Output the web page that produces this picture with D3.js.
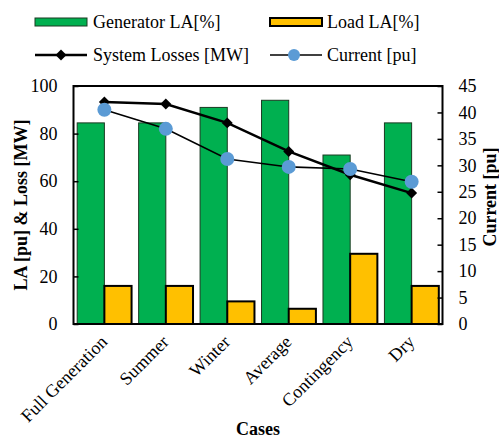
<!DOCTYPE html>
<html><head><meta charset="utf-8">
<script src="https://cdn.jsdelivr.net/npm/d3@7"></script>
<style>body{margin:0;background:#fff}svg{display:block}text{font-family:"Liberation Serif","Times New Roman",serif}</style>
</head><body><svg id="c" width="499" height="439"></svg>
<script>
const categories = ["Full Generation","Summer","Winter","Average","Contingency","Dry"];
const generatorLA = [84.5, 84.5, 91, 94, 71, 84.5];
const loadLA = [16, 16, 9.5, 6.4, 29.5, 16];
const systemLosses = [93.3, 92.4, 84.5, 72.5, 62.7, 55];
const current = [40.5, 36.9, 31.2, 29.7, 29.3, 26.9];
const leftTicks = [0,20,40,60,80,100];
const rightTicks = [0,5,10,15,20,25,30,35,40,45];

const svg = d3.select("#c");
const L = 73.5, R = 442.5, T = 86, B = 324;
const x = d3.scaleBand().domain(categories).range([L, R]).paddingInner(0.115).paddingOuter(0.06);
const xs = d3.scaleBand().domain(["g","l"]).range([0, x.bandwidth()]);
const yL = d3.scaleLinear().domain([0,100]).range([B, T]);
const yR = d3.scaleLinear().domain([0,45]).range([B, T]);

// bars
const g = svg.append("g");
categories.forEach((c,i)=>{
  g.append("rect").attr("x", x(c)+xs("g")).attr("y", yL(generatorLA[i]))
   .attr("width", xs.bandwidth()).attr("height", B - yL(generatorLA[i]))
   .attr("fill","#00B050").attr("stroke","#1a3a22").attr("stroke-width",1);
  g.append("rect").attr("x", x(c)+xs("l")).attr("y", yL(loadLA[i]))
   .attr("width", xs.bandwidth()).attr("height", B - yL(loadLA[i]))
   .attr("fill","#FFC000").attr("stroke","#000").attr("stroke-width",2);
});

// frame
svg.append("rect").attr("x",L).attr("y",T).attr("width",R-L).attr("height",B-T)
  .attr("fill","none").attr("stroke","#000").attr("stroke-width",2);

// axes
const fs = "18px";
const ax1 = svg.append("g").attr("transform",`translate(${L},0)`)
  .call(d3.axisLeft(yL).tickValues(leftTicks).tickSize(-5).tickPadding(16));
const ax2 = svg.append("g").attr("transform",`translate(${R},0)`)
  .call(d3.axisRight(yR).tickValues(rightTicks).tickSize(-5).tickPadding(16));
[ax1,ax2].forEach(a=>{
  a.select(".domain").remove();
  a.selectAll(".tick line").attr("stroke","#000").attr("stroke-width",1.5);
  a.selectAll("text").style("font-size",fs).attr("fill","#000").style("font-family","Liberation Serif");
});

// x labels
categories.forEach(c=>{
  const cx = x(c) + x.bandwidth()/2;
  svg.append("text").attr("transform",`translate(${cx+4},${343}) rotate(-45)`)
    .attr("text-anchor","end").style("font-size",fs).text(c);
});

// lines
const px = c => x(c) + x.bandwidth()/2;
const lossLine = d3.line().x((d,i)=>px(categories[i])).y(d=>yL(d));
svg.append("path").attr("d", lossLine(systemLosses)).attr("fill","none").attr("stroke","#000").attr("stroke-width",2.5);
systemLosses.forEach((v,i)=>{
  svg.append("path").attr("d", d3.symbol().type(d3.symbolSquare).size(60)()).attr("transform",`translate(${px(categories[i])},${yL(v)}) rotate(45)`).attr("fill","#000");
});
const curLine = d3.line().x((d,i)=>px(categories[i])).y(d=>yR(d));
svg.append("path").attr("d", curLine(current)).attr("fill","none").attr("stroke","#000").attr("stroke-width",1.6);
current.forEach((v,i)=>{
  svg.append("circle").attr("cx", px(categories[i])).attr("cy", yR(v)).attr("r",7).attr("fill","#5B9BD5");
});

// axis titles
svg.append("text").attr("transform",`translate(27,${(T+B)/2}) rotate(-90)`).attr("text-anchor","middle")
  .style("font-size",fs).style("font-weight","bold").text("LA [pu] & Loss [MW]");
svg.append("text").attr("transform",`translate(496,197) rotate(-90)`).attr("text-anchor","middle")
  .style("font-size",fs).style("font-weight","bold").text("Current [pu]");
svg.append("text").attr("x",(L+R)/2).attr("y",435).attr("text-anchor","middle")
  .style("font-size",fs).style("font-weight","bold").text("Cases");

// legend
const lg = svg.append("g");
lg.append("rect").attr("x",35).attr("y",18).attr("width",52).attr("height",8).attr("fill","#00B050").attr("stroke","#1a3a22").attr("stroke-width",1);
lg.append("text").attr("x",93).attr("y",28).style("font-size",fs).text("Generator LA[%]");
lg.append("rect").attr("x",270).attr("y",18).attr("width",52).attr("height",8).attr("fill","#FFC000").attr("stroke","#000").attr("stroke-width",2);
lg.append("text").attr("x",327).attr("y",28).style("font-size",fs).text("Load LA[%]");
lg.append("line").attr("x1",35).attr("x2",87).attr("y1",55).attr("y2",55).attr("stroke","#000").attr("stroke-width",2.5);
lg.append("path").attr("d", d3.symbol().type(d3.symbolSquare).size(60)()).attr("transform","translate(61,55) rotate(45)").attr("fill","#000");
lg.append("text").attr("x",93).attr("y",61).style("font-size",fs).text("System Losses [MW]");
lg.append("line").attr("x1",270).attr("x2",322).attr("y1",55).attr("y2",55).attr("stroke","#000").attr("stroke-width",1.6);
lg.append("circle").attr("cx",294).attr("cy",55).attr("r",6).attr("fill","#5B9BD5");
lg.append("text").attr("x",327).attr("y",61).style("font-size",fs).text("Current [pu]");
</script></body></html>
